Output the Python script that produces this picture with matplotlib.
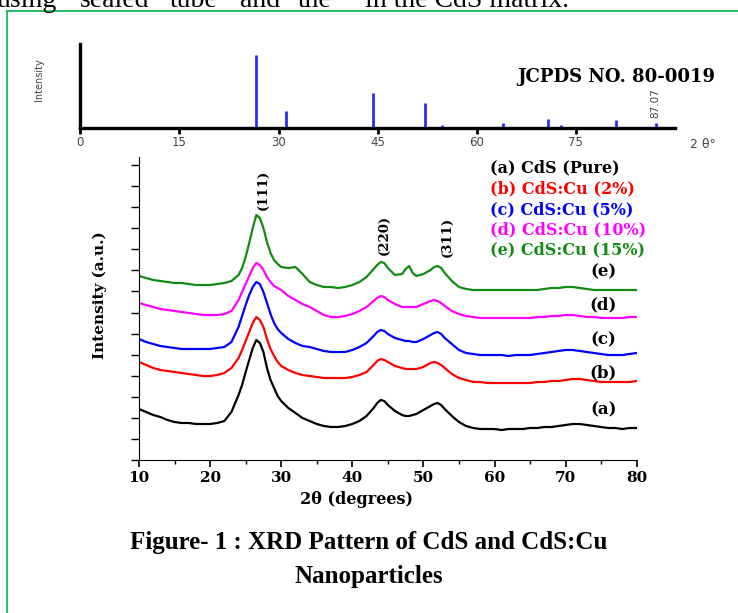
"""XRD pattern of CdS and CdS:Cu nanoparticles with JCPDS reference sticks."""

import matplotlib.pyplot as plt
from matplotlib.lines import Line2D
import numpy as np

W, H = 738, 613

# JCPDS NO. 80-0019 reference lines (2 theta, relative intensity)
jcpds_pos = [26.6, 31.1, 44.3, 52.2, 54.8, 64.0, 70.8, 72.8, 81.0, 87.07]
jcpds_int = [100, 23, 48, 34, 4, 6.5, 11.5, 4, 10, 6.5]
jcpds_ticks = [0, 15, 30, 45, 60, 75]

two_theta = [10, 11, 12, 13, 14, 15, 16, 17, 18, 19, 20, 21, 22, 23, 24,
             24.5, 25, 25.5, 26, 26.5, 27, 27.5, 28, 28.5, 29, 29.5, 30,
             31, 32, 33, 34, 35, 36, 37, 38, 39, 40, 41, 42, 43,
             43.5, 44, 44.5, 45, 46, 47, 47.5, 48, 48.5, 49, 50, 51,
             51.5, 52, 52.5, 53, 54, 55, 56, 57, 58, 59, 60, 61, 62, 63, 64,
             65, 66, 67, 68, 69, 70, 71, 72, 73, 74, 75, 76, 77, 78, 79, 80]

cds_pure = [51, 48, 45, 43, 40, 38, 37, 37, 36, 36, 36, 37, 39, 48, 65,
            75, 88, 100, 112, 120, 117, 108, 92, 80, 72, 64, 59,
            52, 47, 42, 39, 36, 34, 33, 33, 34, 36, 39, 44, 52,
            57, 60, 59, 55, 49, 45, 44, 44, 45, 46, 50, 54,
            56, 57, 55, 51, 44, 38, 34, 32, 31, 31, 31, 30, 31, 31, 31,
            32, 32, 33, 33, 34, 35, 36, 36, 35, 34, 33, 32, 32, 31, 32, 32]

cu_2 = [98, 95, 92, 90, 89, 88, 87, 86, 85, 84, 84, 85, 87, 92, 102,
        110, 119, 128, 137, 143, 140, 133, 121, 111, 104, 98, 94,
        90, 87, 85, 84, 83, 82, 82, 82, 82, 83, 85, 88, 95,
        99, 101, 100, 98, 94, 92, 91, 91, 91, 91, 93, 97,
        98, 97, 95, 92, 86, 82, 80, 78, 78, 77, 77, 77, 77, 77, 77,
        77, 78, 78, 79, 79, 80, 81, 81, 80, 79, 78, 78, 78, 78, 78, 79]

cu_5 = [121, 118, 116, 114, 113, 112, 111, 111, 111, 111, 111, 112, 113, 118, 133,
        144, 155, 165, 173, 178, 176, 168, 157, 146, 137, 131, 127,
        121, 117, 114, 113, 111, 109, 108, 108, 108, 110, 113, 117, 124,
        128, 130, 129, 126, 122, 120, 119, 119, 118, 118, 121, 125,
        127, 128, 126, 122, 116, 110, 107, 106, 105, 105, 105, 105, 104, 105, 105,
        105, 106, 107, 108, 109, 110, 110, 109, 108, 107, 106, 105, 105, 105, 106, 107]

cu_10 = [157, 155, 153, 151, 150, 149, 148, 147, 146, 145, 145, 145, 146, 149, 160,
         168, 176, 184, 192, 197, 195, 190, 183, 178, 174, 172, 170,
         164, 160, 156, 153, 149, 145, 143, 143, 144, 146, 149, 153, 159,
         162, 164, 163, 160, 156, 153, 153, 153, 153, 153, 156, 159,
         160, 159, 157, 154, 149, 146, 144, 143, 142, 142, 142, 142, 142, 142, 142,
         142, 143, 143, 144, 144, 145, 145, 144, 143, 143, 142, 142, 142, 142, 143, 143]

cu_15 = [184, 182, 180, 179, 178, 177, 177, 176, 175, 175, 175, 176, 177, 179, 185,
         192, 203, 217, 232, 245, 242, 232, 218, 207, 200, 196, 193,
         192, 193, 186, 178, 175, 173, 173, 172, 173, 175, 178, 183, 191,
         195, 198, 197, 192, 185, 186, 191, 194, 187, 184, 186, 190,
         193, 194, 192, 187, 179, 173, 171, 170, 170, 170, 170, 170, 170, 170, 170,
         170, 170, 171, 172, 172, 173, 173, 172, 171, 170, 170, 170, 170, 170, 170, 170]

series = [cds_pure, cu_2, cu_5, cu_10, cu_15]
colors = ['black', '#ff0000', '#0000ff', '#ff00ff', '#138a13']
legend_labels = ['(a) CdS (Pure)', '(b) CdS:Cu (2%)', '(c) CdS:Cu (5%)',
                 '(d) CdS:Cu (10%)', '(e) CdS:Cu (15%)']
curve_tags = ['(a)', '(b)', '(c)', '(d)', '(e)']
tag_y = [50, 87, 120, 155, 188]
peak_labels = ['(111)', '(220)', '(311)']
peak_x = [27.5, 44.5, 53.3]
peak_y = [270, 225, 223]

# words of the page text line above the figure (cut at the top edge)
page_words = ['using', 'sealed', 'tube', 'and', 'the', 'in the CdS matrix.']
page_word_x = [-3, 80, 170, 240, 298, 365]

serif = 'Liberation Serif'
wide = 'DejaVu Serif'

fig = plt.figure(figsize=(W / 100, H / 100), dpi=100)

for word, wx in zip(page_words, page_word_x):
    fig.text(wx / W, 1 - 7 / H, word, fontsize=20, family=serif, va='baseline')

# green frame around the figure
fx, fy = 7.3 / W, 1 - 10.7 / H
fig.add_artist(Line2D([fx, fx], [0, fy], color='#00b050', lw=1.2))
fig.add_artist(Line2D([fx, 1], [fy, fy], color='#00b050', lw=1.2))

# --- top panel: JCPDS sticks ---
ax0 = fig.add_axes([80.3 / W, 1 - 127.7 / H, (675 - 80.3) / W, (127.7 - 44) / H])
ax0.vlines(jcpds_pos, 0, jcpds_int, color='#2b2bff', lw=2)
ax0.set_xlim(0, 90)
ax0.set_ylim(0, 115)
for s in ['top', 'right']:
    ax0.spines[s].set_visible(False)
for s in ['left', 'bottom']:
    ax0.spines[s].set_linewidth(2.4)
ax0.set_yticks([])
ax0.set_xticks(jcpds_ticks)
ax0.tick_params(axis='x', direction='out', length=4, width=2, pad=2,
                labelsize=8.5, labelcolor='#444444')
ax0.text(87.07, 14, '87.07', rotation=90, ha='center', va='bottom',
         fontsize=7.5, color='#444444')
fig.text(39 / W, 1 - 80 / H, 'Intensity', rotation=90, ha='center', va='center',
         fontsize=7, color='#444444')
fig.text(715 / W, 1 - 76.7 / H, 'JCPDS NO. 80-0019', ha='right', va='center',
         fontsize=13, family=wide, fontweight='bold')
fig.text(690 / W, 1 - 145 / H, '2 θ°', ha='left', va='center',
         fontsize=9, color='#444444')

# --- main panel: XRD patterns ---
ax = fig.add_axes([139 / W, 1 - 460 / H, (636.7 - 139) / W, (460 - 157) / H])
for y, c in zip(series, colors):
    ax.plot(two_theta, y, color=c, lw=1.6)

ax.set_xlim(10, 80)
ax.set_ylim(0, 303)
for s in ['top', 'right']:
    ax.spines[s].set_visible(False)
ax.set_xticks(np.arange(10, 81, 10))
ax.set_xticks(np.arange(15, 80, 10), minor=True)
ax.set_yticks(np.arange(0, 296, 21.07))
ax.set_yticklabels([])
ax.tick_params(axis='x', which='major', direction='out', length=5, width=1.2, pad=3)
ax.tick_params(axis='x', which='minor', direction='out', length=3, width=1)
ax.tick_params(axis='y', direction='out', length=6, width=1)
for lab in ax.get_xticklabels():
    lab.set_fontfamily(wide)
    lab.set_fontweight('bold')
    lab.set_fontsize(11)

for lbl, c, yy in zip(legend_labels, colors, [292, 271, 250, 230, 210]):
    ax.text(59.4, yy, lbl, color=c, fontsize=11.5, family=wide,
            fontweight='bold', va='center', ha='left')
for tag, yy in zip(curve_tags, tag_y):
    ax.text(75.3, yy, tag, fontsize=12, family=wide, fontweight='bold',
            ha='center', va='center')
for lbl, px, py in zip(peak_labels, peak_x, peak_y):
    ax.text(px, py, lbl, rotation=90, fontsize=9.5, family=wide,
            fontweight='bold', ha='center', va='center')

fig.text(100 / W, 1 - 295 / H, 'Intensity (a.u.)', rotation=90, ha='center',
         va='center', fontsize=11, family=wide, fontweight='bold')
fig.text(356 / W, 1 - 500 / H, '2θ (degrees)', ha='center', va='center',
         fontsize=11.5, family=wide, fontweight='bold')

fig.text(369 / W, 1 - 543 / H, 'Figure- 1 : XRD Pattern of CdS and CdS:Cu',
         ha='center', va='center', fontsize=18, family=serif, fontweight='bold')
fig.text(369 / W, 1 - 577 / H, 'Nanoparticles', ha='center', va='center',
         fontsize=18, family=serif, fontweight='bold')

fig.savefig('out.png', dpi=100)
